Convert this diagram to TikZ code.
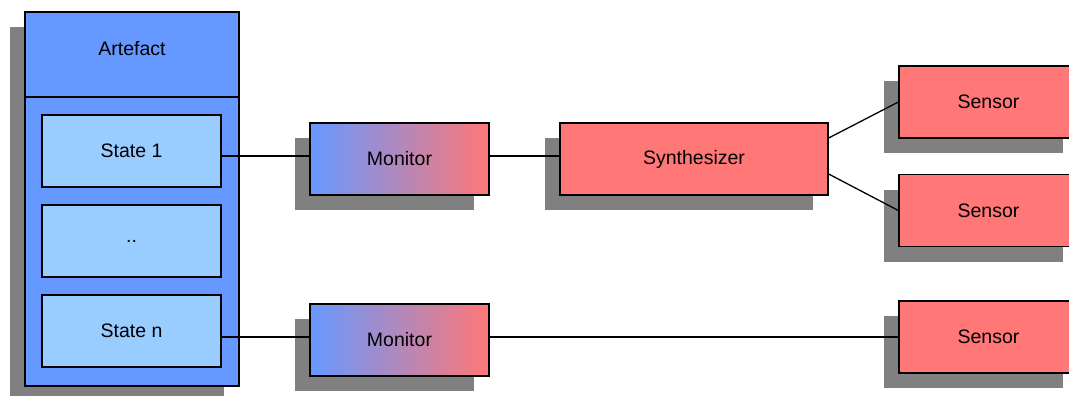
\documentclass[tikz,border=0pt]{standalone}
\usepackage{fontspec}
\setmainfont{Liberation Sans}
\usetikzlibrary{shadows}
\definecolor{artblue}{RGB}{102,153,255}
\definecolor{stblue}{RGB}{153,204,255}
\definecolor{sred}{RGB}{255,119,119}
\definecolor{shgray}{RGB}{128,128,128}
\begin{document}
\begin{tikzpicture}[x=1pt,y=-1pt,
  font=\fontsize{19.5}{22}\selectfont,
  sh/.style={drop shadow={shadow xshift=-15pt,shadow yshift=-15pt,opacity=1,fill=shgray}},
  base/.style={draw=black,line width=1.3pt,rectangle,inner sep=0pt,minimum width=179pt,minimum height=72pt},
  statebox/.style={base,fill=stblue},
  redbox/.style={base,sh,fill=sred},
  monbox/.style={base,sh,left color=artblue,right color=sred},
  conn/.style={line width=1.3pt}]
\useasboundingbox (0,0) rectangle (1069,396);
\clip (0,0) rectangle (1069,396);
% artefact
\node[draw=black,line width=1.3pt,fill=artblue,sh,rectangle,inner sep=0pt,minimum width=214pt,minimum height=374pt] (art) at (132,199) {};
\draw[line width=1.3pt] (art.west |- 0,97) -- (art.east |- 0,97);
\node (arttxt) at (132,49) {Artefact};
\node[statebox] (s1) at (131.5,151) {State 1};
\node[statebox] (sd) at (131.5,241) {..};
\node[statebox] (sn) at (131.5,331) {State n};
% monitors
\node[monbox] (m1) at (399.5,159) {Monitor};
\node[monbox] (m2) at (399.5,340) {Monitor};
% synthesizer
\node[redbox,minimum width=268pt] (syn) at (694,159) {Synthesizer};
% sensors
\node[redbox] (se1) at (988.5,102) {Sensor};
\node[redbox] (se2) at (988.5,210.5) {Sensor};
\node[redbox] (se3) at (988.5,337) {Sensor};
% connectors
\draw[conn] ([yshift=3pt]m1.west -| s1.east) -- ([yshift=3pt]m1.west);
\draw[conn] ([yshift=3pt]m1.east) -- ([yshift=3pt]syn.west);
\draw[conn] ([yshift=21pt]syn.east) -- (se1.west);
\draw[conn] ([yshift=-15pt]syn.east) -- (se2.west);
\draw[conn] ([yshift=3pt]m2.west -| sn.east) -- ([yshift=3pt]m2.west);
\draw[conn] ([yshift=3pt]m2.east) -- (se3.west);
\end{tikzpicture}
\end{document}
